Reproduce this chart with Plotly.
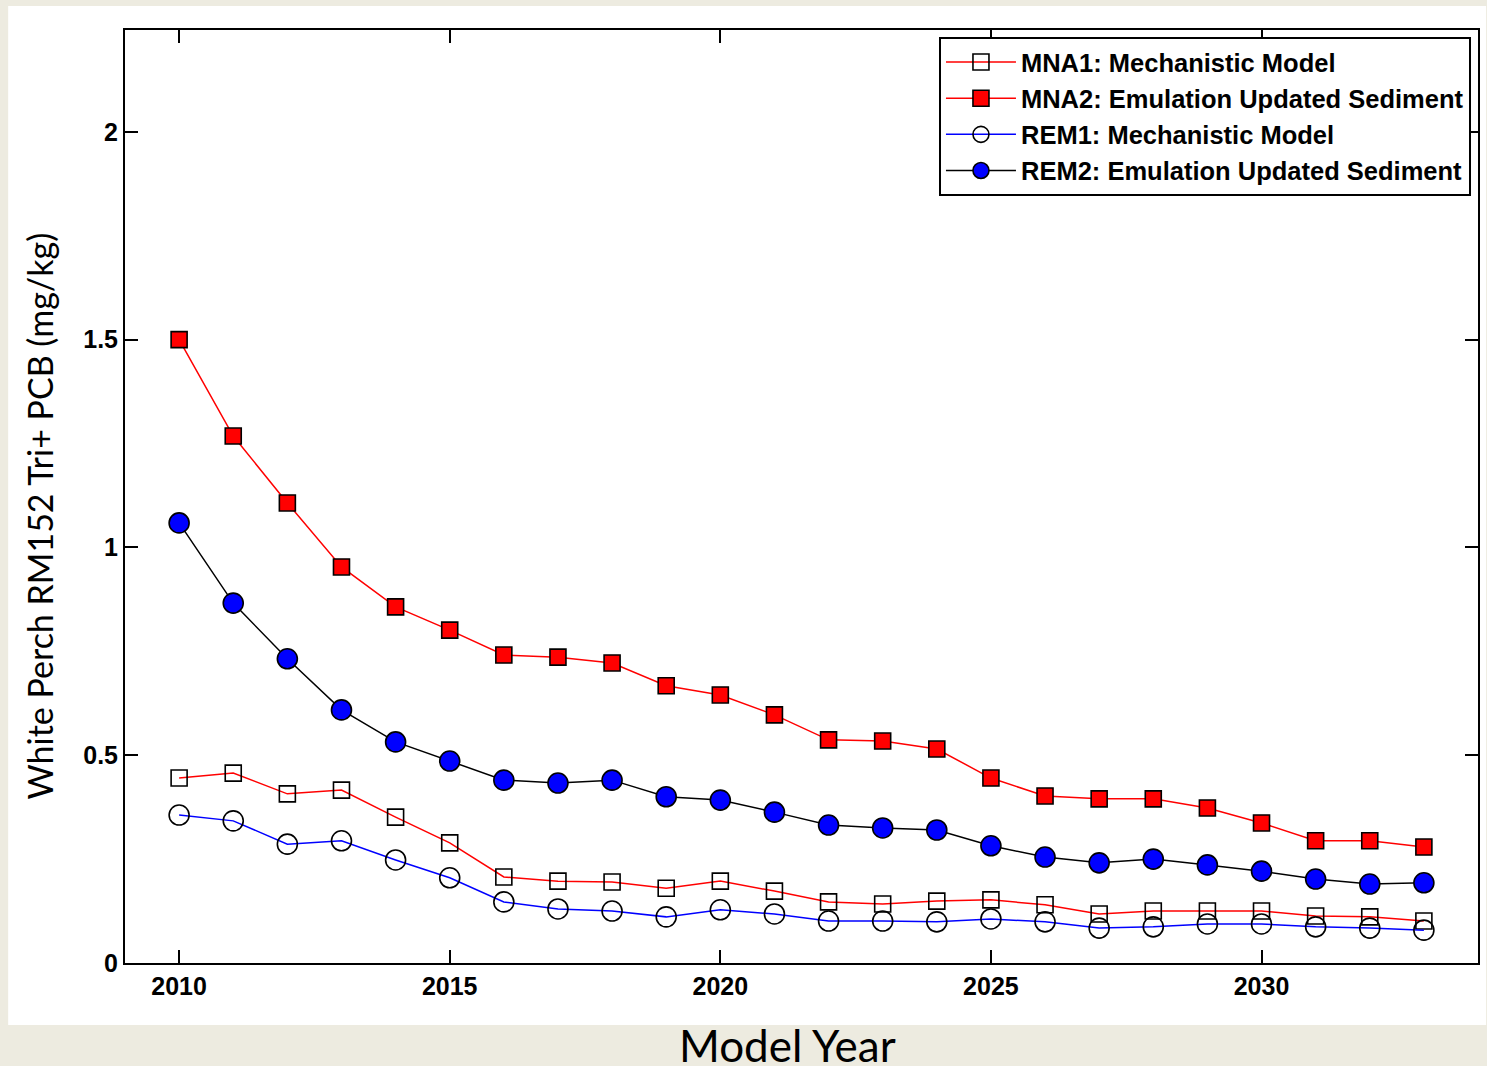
import plotly.graph_objects as go

years = list(range(2010, 2034))

mna1 = [0.445, 0.457, 0.407, 0.416, 0.351, 0.289, 0.207, 0.197, 0.195, 0.180, 0.197, 0.173,
        0.147, 0.142, 0.149, 0.152, 0.140, 0.118, 0.125, 0.125, 0.125, 0.113, 0.111, 0.101]
mna2 = [1.500, 1.268, 1.107, 0.953, 0.857, 0.801, 0.741, 0.736, 0.722, 0.667, 0.645, 0.597,
        0.537, 0.534, 0.515, 0.445, 0.402, 0.395, 0.395, 0.373, 0.337, 0.294, 0.294, 0.279]
rem1 = [0.356, 0.342, 0.286, 0.294, 0.248, 0.205, 0.147, 0.130, 0.125, 0.111, 0.128, 0.118,
        0.101, 0.101, 0.099, 0.106, 0.099, 0.084, 0.087, 0.094, 0.094, 0.087, 0.084, 0.079]
rem2 = [1.059, 0.866, 0.732, 0.609, 0.532, 0.486, 0.440, 0.433, 0.440, 0.400, 0.392, 0.363,
        0.332, 0.325, 0.320, 0.282, 0.255, 0.241, 0.250, 0.236, 0.221, 0.202, 0.190, 0.193]

names = ["MNA1: Mechanistic Model", "MNA2: Emulation Updated Sediment",
         "REM1: Mechanistic Model", "REM2: Emulation Updated Sediment"]

x_ticks = [2010, 2015, 2020, 2025, 2030]
y_ticks = [0, 0.5, 1, 1.5, 2]
y_ticklabels = ["0", "0.5", "1", "1.5", "2"]

fig = go.Figure()
fig.add_trace(go.Scatter(x=years, y=mna1, name=names[0], mode="lines+markers",
                         line=dict(color="#ff0000", width=1.5),
                         marker=dict(symbol="square-open", size=16, color="black",
                                     line=dict(color="black", width=1.6))))
fig.add_trace(go.Scatter(x=years, y=mna2, name=names[1], mode="lines+markers",
                         line=dict(color="#ff0000", width=1.5),
                         marker=dict(symbol="square", size=16, color="#ff0000",
                                     line=dict(color="black", width=1.6))))
fig.add_trace(go.Scatter(x=years, y=rem1, name=names[2], mode="lines+markers",
                         line=dict(color="#0000ff", width=1.5),
                         marker=dict(symbol="circle-open", size=20, color="black",
                                     line=dict(color="black", width=1.6))))
fig.add_trace(go.Scatter(x=years, y=rem2, name=names[3], mode="lines+markers",
                         line=dict(color="black", width=1.5),
                         marker=dict(symbol="circle", size=20, color="#0000ff",
                                     line=dict(color="black", width=1.6))))

tickfont = dict(family="Liberation Sans, Arial, sans-serif", size=25, color="black", weight="bold")

fig.update_xaxes(range=[2009, 2034], tickvals=x_ticks, ticktext=[str(v) for v in x_ticks],
                 ticks="inside", ticklen=13, tickwidth=1.5, tickcolor="black",
                 showline=True, linecolor="black", linewidth=2, mirror="ticks",
                 showgrid=False, zeroline=False, tickfont=tickfont)
fig.update_yaxes(range=[0, 2.245], tickvals=y_ticks, ticktext=y_ticklabels,
                 ticks="inside", ticklen=13, tickwidth=1.5, tickcolor="black",
                 showline=True, linecolor="black", linewidth=2, mirror="ticks",
                 showgrid=False, zeroline=False, tickfont=tickfont)

fig.update_layout(
    width=1487, height=1066,
    margin=dict(l=125, r=7, t=30, b=103),
    paper_bgcolor="#edebe0",
    plot_bgcolor="white",
    legend=dict(x=0.9948, y=0.9925, xanchor="right", yanchor="top",
                bgcolor="white", bordercolor="black", borderwidth=2,
                font=dict(family="Liberation Sans, Arial, sans-serif", size=25.5,
                          color="black", weight="bold"),
                itemwidth=70, tracegroupgap=0),
    shapes=[dict(type="rect", xref="paper", yref="paper",
                 x0=-0.08635, x1=1.006, y0=-0.06645, y1=1.0257,
                 fillcolor="white", line=dict(width=0), layer="below")],
    annotations=[
        dict(text="Model Year", xref="paper", yref="paper", x=0.4893, y=-0.088,
             xanchor="center", yanchor="middle", showarrow=False,
             font=dict(family="Lato, sans-serif", size=44, color="black")),
        dict(text="White Perch RM152 Tri+ PCB (mg/kg)", xref="paper", yref="paper",
             x=-0.0625, y=0.4791, xanchor="center", yanchor="middle", textangle=-90,
             showarrow=False, font=dict(family="Lato, sans-serif", size=34, color="black")),
    ],
)

fig.write_html("out.html", config={"displayModeBar": False},
               post_script="document.body.style.margin='0px';document.body.style.padding='0px';document.body.style.overflow='hidden';")
